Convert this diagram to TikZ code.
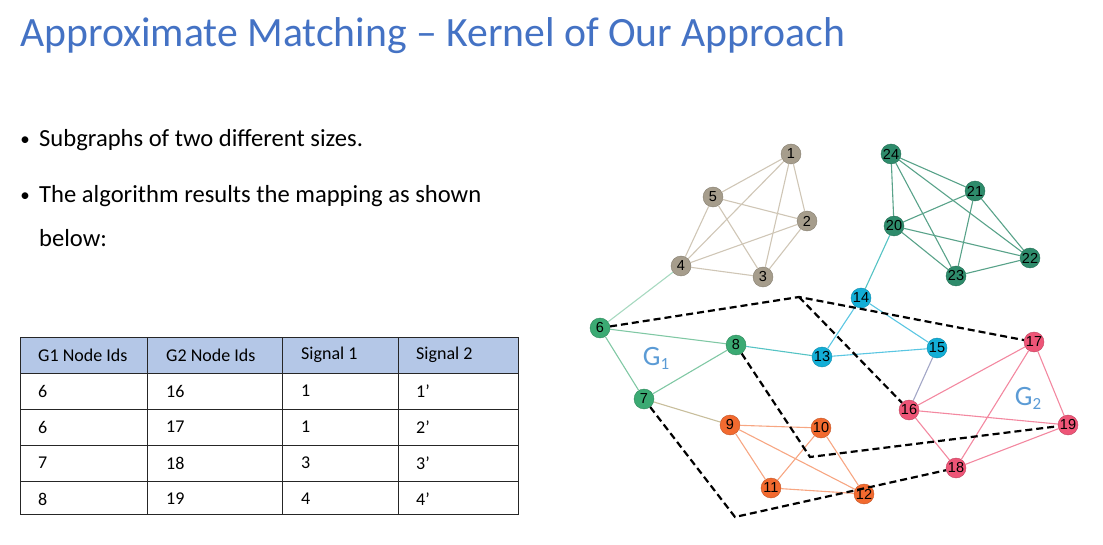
\documentclass[tikz,border=0pt]{standalone}
\usepackage{fontspec}
\setmainfont{Carlito}
\newfontfamily\numfont{Liberation Sans}
\definecolor{titleblue}{HTML}{4472C4}
\definecolor{labelblue}{HTML}{5B9BD5}
\definecolor{headfill}{HTML}{B4C7E7}
\definecolor{cbrown}{HTML}{A69D8C}
\definecolor{cdkgreen}{HTML}{2E8B6B}
\definecolor{cltgreen}{HTML}{3BAA73}
\definecolor{ccyan}{HTML}{13AED6}
\definecolor{corange}{HTML}{F26A2F}
\definecolor{cpink}{HTML}{EE5577}
\definecolor{ebrown}{HTML}{CFC6B6}
\definecolor{ekhaki}{HTML}{C8BE9C}
\definecolor{eslate}{HTML}{A2A6C6}
\definecolor{eteal}{HTML}{55C3C4}
\begin{document}
\begin{tikzpicture}[x=1pt,y=-1pt,
  vtx/.style={circle, minimum size=20pt, inner sep=0pt, draw=#1!80!black,
    line width=0.4pt, fill=#1, text=black, font=\numfont\fontsize{14.5}{15}\selectfont},
  edge/.style={draw=#1, line width=1.1pt},
  mapline/.style={draw=black, line width=2.2pt, dash pattern=on 7pt off 4pt},
  cell/.style={anchor=west, inner sep=0pt, font=\fontsize{18}{20}\selectfont},
  bulletdot/.style={inner sep=0pt, font=\fontsize{19}{20}\selectfont},
  bullettext/.style={anchor=base west, inner sep=0pt, font=\fontsize{24.6}{28}\selectfont},
  glabel/.style={text=labelblue, inner sep=0pt, font=\fontsize{28}{30}\selectfont}]
\useasboundingbox (0,0) rectangle (1103,545);

% title
\node[anchor=base west, inner sep=0pt, text=titleblue, font=\fontsize{41.7}{44}\selectfont]
  (title) at (20,47) {Approximate Matching – Kernel of Our Approach};

% bullet points
\node[bulletdot] (b1) at (25,141) {•};
\node[bullettext] (t1) at (39,147) {Subgraphs of two different sizes.};
\node[bulletdot] (b2) at (25,197) {•};
\node[bullettext] (t2) at (39,203) {The algorithm results the mapping as shown};
\node[bullettext] (t3) at (39,247) {below:};

% mapping table
\fill[headfill] (20,337) rectangle (518,373);
\draw[black!85, line width=1pt] (20,337) rectangle (518,514);
\foreach \y in {373,409,445,481} \draw[black!85, line width=1pt] (20,\y) -- (518,\y);
\foreach \x in {147,282,398} \draw[black!85, line width=1pt] (\x,337) -- (\x,514);
\node[cell] (h1) at (38,355) {G1 Node Ids};
\node[cell] (h2) at (166,355) {G2 Node Ids};
\node[cell] (h3) at (301,355) {Signal 1};
\node[cell] (h4) at (416,355) {Signal 2};
\node[cell] (r1a) at (38,391) {6};
\node[cell] (r1b) at (166,391) {16};
\node[cell] (r1c) at (301,391) {1};
\node[cell] (r1d) at (416,391) {1’};
\node[cell] (r2a) at (38,427) {6};
\node[cell] (r2b) at (166,427) {17};
\node[cell] (r2c) at (301,427) {1};
\node[cell] (r2d) at (416,427) {2’};
\node[cell] (r3a) at (38,463) {7};
\node[cell] (r3b) at (166,463) {18};
\node[cell] (r3c) at (301,463) {3};
\node[cell] (r3d) at (416,463) {3’};
\node[cell] (r4a) at (38,499) {8};
\node[cell] (r4b) at (166,499) {19};
\node[cell] (r4c) at (301,499) {4};
\node[cell] (r4d) at (416,499) {4’};

% graph vertices
\node[vtx=cbrown] (n1) at (791,154) {1};
\node[vtx=cbrown] (n2) at (807,221) {2};
\node[vtx=cbrown] (n3) at (763,277) {3};
\node[vtx=cbrown] (n4) at (681,266) {4};
\node[vtx=cbrown] (n5) at (713,197) {5};
\node[vtx=cltgreen] (n6) at (600,328) {6};
\node[vtx=cltgreen] (n7) at (644,399) {7};
\node[vtx=cltgreen] (n8) at (736,345) {8};
\node[vtx=corange] (n9) at (730,425) {9};
\node[vtx=corange] (n10) at (821,428) {10};
\node[vtx=corange] (n11) at (771,488) {11};
\node[vtx=corange] (n12) at (864,494) {12};
\node[vtx=ccyan] (n13) at (822,357) {13};
\node[vtx=ccyan] (n14) at (861,298) {14};
\node[vtx=ccyan] (n15) at (937,348) {15};
\node[vtx=cpink] (n16) at (909,410) {16};
\node[vtx=cpink] (n17) at (1034,342) {17};
\node[vtx=cpink] (n18) at (956,468) {18};
\node[vtx=cpink] (n19) at (1068,425) {19};
\node[vtx=cdkgreen] (n20) at (894,226) {20};
\node[vtx=cdkgreen] (n21) at (975,191) {21};
\node[vtx=cdkgreen] (n22) at (1030,258) {22};
\node[vtx=cdkgreen] (n23) at (956,276) {23};
\node[vtx=cdkgreen] (n24) at (891,154) {24};

% graph edges
\foreach \a/\b in {1/2,1/3,1/4,1/5,2/3,2/4,2/5,3/4,3/5,4/5}
  \draw[edge=ebrown] (n\a) -- (n\b);
\foreach \a/\b in {20/21,20/22,20/23,20/24,21/22,21/23,21/24,22/23,22/24,23/24}
  \draw[edge={cdkgreen!80}] (n\a) -- (n\b);
\foreach \a/\b in {6/7,6/8,7/8}
  \draw[edge={cltgreen!65}] (n\a) -- (n\b);
\foreach \a/\b in {9/10,9/11,9/12,10/11,10/12,11/12}
  \draw[edge={corange!60}] (n\a) -- (n\b);
\foreach \a/\b in {16/17,16/18,16/19,17/18,17/19,18/19}
  \draw[edge={cpink!70}] (n\a) -- (n\b);
\foreach \a/\b in {13/14,13/15,14/15}
  \draw[edge={ccyan!70}] (n\a) -- (n\b);
\draw[edge={cltgreen!45}] (n4) -- (n6);
\draw[edge=eteal] (n20) -- (n14);
\draw[edge=eteal] (n8) -- (n13);
\draw[edge=ekhaki] (n7) -- (n9);
\draw[edge=eslate] (n15) -- (n16);

% vertex mapping between the two subgraphs
\coordinate (peak) at (799,297);
\coordinate (k8) at (810,457);
\coordinate (k7) at (735,517);
\draw[mapline] (n6) -- (peak) -- (n17);
\draw[mapline] (peak) -- (n16);
\draw[mapline] (n8) -- (k8) -- (n19);
\draw[mapline] (n7) -- (k7) -- (n18);

% subgraph labels
\node[glabel] (g1) at (656,358) {G\raisebox{-0.3ex}{\fontsize{17}{17}\selectfont 1}};
\node[glabel] (g2) at (1028,398) {G\raisebox{-0.3ex}{\fontsize{17}{17}\selectfont 2}};
\end{tikzpicture}
\end{document}
